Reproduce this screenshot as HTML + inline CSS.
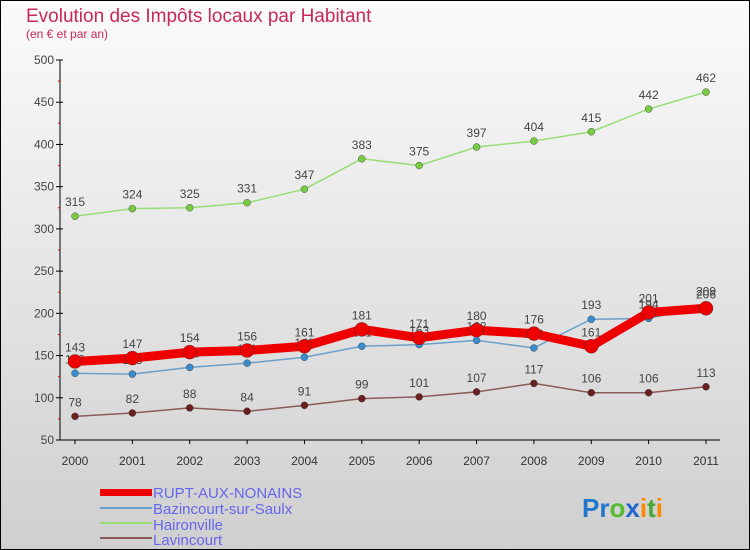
<!DOCTYPE html>
<html><head><meta charset="utf-8"><style>
body{margin:0}
#c{width:750px;height:550px;position:relative;overflow:hidden;font-family:"Liberation Sans",sans-serif}
</style></head><body>
<div id="c">
<svg width="750" height="550" id="svg">
<defs><linearGradient id="bg" x1="0" y1="0" x2="0" y2="1"><stop offset="0" stop-color="#fbfbfb"/><stop offset="1" stop-color="#cfcfcf"/></linearGradient></defs>
<rect x="0.5" y="0.5" width="749" height="549" fill="url(#bg)" stroke="#000"/>
<text x="26" y="22" font-size="19" fill="#c8285a">Evolution des Impôts locaux par Habitant</text>
<text x="26" y="38" font-size="12" fill="#c8285a">(en € et par an)</text>
<g id="axes"></g>
<g id="series"></g>
<g font-size="15" fill="#6666ee">
<rect x="100" y="489" width="52" height="7" fill="#ee0000"/>
<text x="153" y="498">RUPT-AUX-NONAINS</text>
<rect x="100" y="507" width="52" height="2" fill="#6aa0cc"/>
<text x="153" y="514">Bazincourt-sur-Saulx</text>
<rect x="100" y="522" width="52" height="2" fill="#99dd77"/>
<text x="153" y="530">Haironville</text>
<rect x="100" y="537" width="52" height="2" fill="#8b5a5a"/>
<text x="153" y="545">Lavincourt</text>
</g>
<text x="582" y="517" font-size="26" font-weight="bold"><tspan fill="#2277cc">Pr</tspan><tspan fill="#55bb33">o</tspan><tspan fill="#2266cc">x</tspan><tspan fill="#ff8800">i</tspan><tspan fill="#44aa33">t</tspan><tspan fill="#ff8800">i</tspan></text>
</svg>
</div>
<script>
const years=["2000","2001","2002","2003","2004","2005","2006","2007","2008","2009","2010","2011"];
const yTicks=[50,100,150,200,250,300,350,400,450,500];
const rupt=[143,147,154,156,161,181,171,180,176,161,201,206];
const bazincourt=[129,128,136,141,148,161,163,168,159,193,194,209];
const haironville=[315,324,325,331,347,383,375,397,404,415,442,462];
const lavincourt=[78,82,88,84,91,99,101,107,117,106,106,113];
const NS="http://www.w3.org/2000/svg";
function X(i){return 75+i*(706-75)/(years.length-1);}
function Y(v){return 440-(v-50)*380/450;}
function mk(t,a,p){const e=document.createElementNS(NS,t);for(const k in a)e.setAttribute(k,a[k]);p.appendChild(e);return e;}
const ax=document.getElementById('axes');
const yl=mk('line',{x1:60,y1:Y(500),x2:60,y2:Y(50),stroke:'#000'},ax);


const xl=mk('line',{x1:60,y1:Y(50),x2:720,y2:Y(50),stroke:'#000'},ax);


yTicks.forEach(v=>{
  mk('line',{x1:56,y1:Y(v),x2:63,y2:Y(v),stroke:'#000'},ax);
  const t=mk('text',{x:54,y:Y(v)+4,'text-anchor':'end','font-size':12,fill:'#444'},ax);
  t.textContent=v;
  
  
  if(v<500) mk('line',{x1:58,y1:Y(v+25),x2:60,y2:Y(v+25),stroke:'#e00'},ax);
});
years.forEach((y,i)=>{
  mk('line',{x1:X(i),y1:Y(50),x2:X(i),y2:Y(50)+4,stroke:'#000'},ax);
  const t=mk('text',{x:X(i),y:465,'text-anchor':'middle','font-size':12,fill:'#333'},ax);
  t.textContent=y;
  
  
});
const sg=document.getElementById('series');
function draw(name,data,color,w,r,dot){
  const g=mk('g',{},sg);
  
  
  const pl=mk('polyline',{points:data.map((v,i)=>X(i)+','+Y(v)).join(' '),fill:'none',stroke:color,'stroke-width':w,'stroke-linejoin':'round'},g);
  
  
  data.forEach((v,i)=>{
    const c=mk('circle',{cx:X(i),cy:Y(v),r:r,fill:dot,stroke:'#333','stroke-width':0.4},g);
    
    
    const t=mk('text',{x:X(i),y:Y(v)-10,'text-anchor':'middle','font-size':12,fill:'#444'},g);
    t.textContent=v;
    
    
  });
}
draw('haironville',haironville,'#99dd77',1.5,3.5,'#77cc44');
draw('lavincourt',lavincourt,'#8b5a5a',1.5,3.5,'#6b1f1f');
draw('bazincourt',bazincourt,'#6aa0cc',1.5,3.5,'#3a8ccc');
draw('rupt',rupt,'#ee0000',9,7,'#ee0000');
</script>
</body></html>
